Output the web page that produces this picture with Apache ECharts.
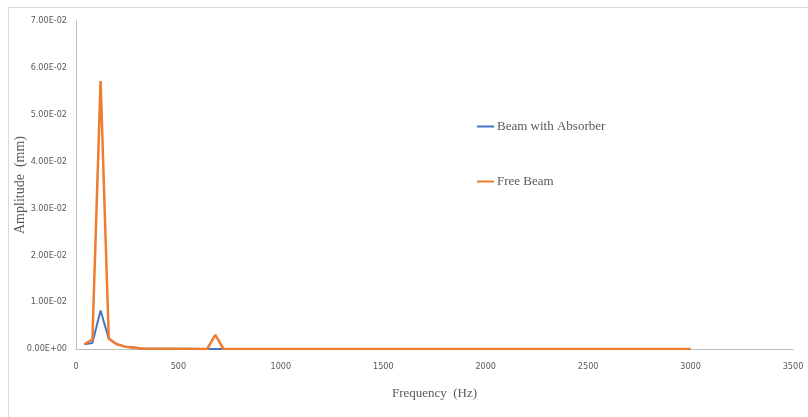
<!DOCTYPE html>
<html>
<head>
<meta charset="utf-8" />
<title></title>
<style type="text/css">
	html, body { margin: 0; padding: 0; background: #fff; }
	#chart { width: 808px; height: 417px; }
</style>
<script src="https://cdn.jsdelivr.net/npm/echarts@6/dist/echarts.min.js" type="text/javascript" charset="utf-8"></script>
</head>
<body>
<div id="chart"></div>
<script type="text/javascript">
	// frequency (Hz) and amplitudes (mm)
	var freqs = [40, 80, 120, 160, 200, 240, 280, 320, 640, 680, 720, 3000];
	var absorber = [0.0010, 0.0013, 0.0082, 0.0022, 0.0010, 0.0005, 0.0003, 0.0001, 0, 0, 0, 0];
	var freeBeam = [0.0010, 0.0020, 0.0572, 0.0022, 0.0010, 0.0005, 0.0003, 0.0001, 0, 0.0030, 0, 0];
	var seriesNames = ['Beam with Absorber', 'Free Beam'];

	function pairs(ys) {
		var out = [];
		for (var i = 0; i < freqs.length; i++) out.push([freqs[i], ys[i]]);
		return out;
	}
	// Excel style 7.00E-02
	function sci(v) {
		if (v === 0) return '0.00E+00';
		var e = Math.floor(Math.log10(Math.abs(v)) + 1e-9);
		var m = v / Math.pow(10, e);
		var s = e < 0 ? '-' : '+';
		var ae = Math.abs(e);
		return m.toFixed(2) + 'E' + s + (ae < 10 ? '0' : '') + ae;
	}

	var myChart = echarts.init(document.getElementById('chart'));
	var tickFont = { color: '#595959', fontSize: 9, fontFamily: 'DejaVu Sans Condensed' };
	var option = {
		animation: false,
		grid: { left: 76, right: 15, top: 21, bottom: 68, outerBoundsMode: 'none', containLabel: false },
		graphic: [{
			type: 'rect', left: 6, top: 5,
			shape: { width: 800, height: 420 },
			style: { fill: 'none', stroke: '#d9d9d9', lineWidth: 1 }
		}],
		legend: {
			data: seriesNames,
			orient: 'vertical',
			left: 472, top: 115,
			itemGap: 42,
			icon: 'rect', itemWidth: 17, itemHeight: 2,
			textStyle: { fontFamily: 'Liberation Serif', fontSize: 13, color: '#595959', padding: [0, 0, 0, -2] }
		},
		xAxis: {
			type: 'value', min: 0, max: 3500, interval: 500,
			name: 'Frequency  (Hz)', nameLocation: 'middle', nameGap: 38,
			nameTextStyle: { fontFamily: 'Liberation Serif', fontSize: 13, color: '#595959' },
			axisLine: { show: true, lineStyle: { color: '#bfbfbf' } },
			axisTick: { show: false },
			splitLine: { show: false },
			axisLabel: Object.assign({ margin: 13, formatter: function (v) { return String(v); } }, tickFont)
		},
		yAxis: {
			type: 'value', min: 0, max: 0.07, interval: 0.01,
			name: 'Amplitude  (mm)', nameLocation: 'middle', nameGap: 49, nameMoveOverlap: false,
			nameTextStyle: { fontFamily: 'Liberation Serif', fontSize: 14, color: '#595959' },
			axisLine: { show: true, lineStyle: { color: '#bfbfbf' } },
			axisTick: { show: false },
			splitLine: { show: false },
			axisLabel: Object.assign({ margin: 9, formatter: sci }, tickFont)
		},
		series: [
			{
				name: seriesNames[0], type: 'line', data: pairs(absorber),
				showSymbol: false, symbol: 'none', z: 2,
				lineStyle: { color: '#4472c4', width: 2 }, itemStyle: { color: '#4472c4' }
			},
			{
				name: seriesNames[1], type: 'line', data: pairs(freeBeam),
				showSymbol: false, symbol: 'none', z: 3,
				lineStyle: { color: '#ed7d31', width: 2.5 }, itemStyle: { color: '#ed7d31' }
			}
		]
	};
	myChart.setOption(option);
</script>
</body>
</html>
